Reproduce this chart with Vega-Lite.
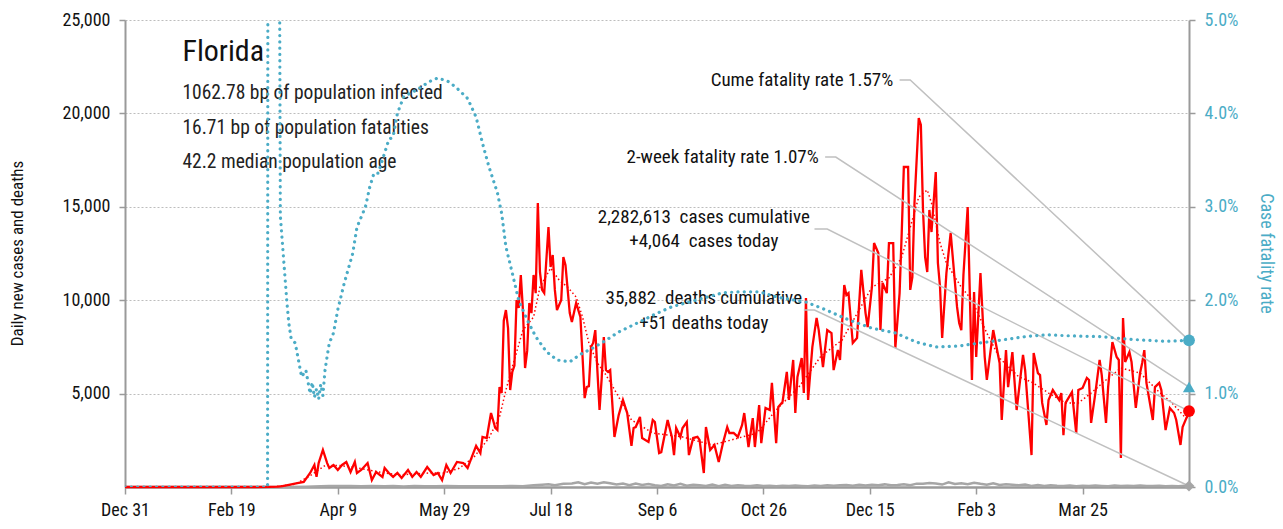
{
"$schema": "https://vega.github.io/schema/vega-lite/v6.json",
"width": 1064,
"height": 467,
"autosize": {"type": "none"},
"padding": {"left": 125, "top": 20, "right": 94, "bottom": 42},
"background": "white",
"config": {
  "font": "Liberation Sans Narrow, Roboto Condensed, DejaVu Sans Condensed, sans-serif",
  "view": {"stroke": null},
  "axis": {"labelFont": "Liberation Sans Narrow, Roboto Condensed, DejaVu Sans Condensed, sans-serif", "titleFont": "Liberation Sans Narrow, Roboto Condensed, DejaVu Sans Condensed, sans-serif"}
},
"datasets": {
  "cases": [
    {"t":"2019-12-31","v":0},{"t":"2020-03-01","v":0},{"t":"2020-03-08","v":5},{"t":"2020-03-12","v":20},{"t":"2020-03-14","v":50},{"t":"2020-03-17","v":120},{"t":"2020-03-21","v":210},{"t":"2020-03-24","v":270},{"t":"2020-03-27","v":750},{"t":"2020-03-29","v":1180},{"t":"2020-03-30","v":540},{"t":"2020-03-31","v":1280},
    {"t":"2020-04-02","v":1980},{"t":"2020-04-04","v":1280},{"t":"2020-04-05","v":1020},{"t":"2020-04-07","v":1180},{"t":"2020-04-09","v":910},{"t":"2020-04-11","v":1180},{"t":"2020-04-13","v":1340},{"t":"2020-04-15","v":800},{"t":"2020-04-17","v":1340},{"t":"2020-04-18","v":750},{"t":"2020-04-20","v":910},{"t":"2020-04-23","v":1280},{"t":"2020-04-25","v":370},{"t":"2020-04-27","v":800},{"t":"2020-04-30","v":540},
    {"t":"2020-05-01","v":1020},{"t":"2020-05-03","v":750},{"t":"2020-05-05","v":540},{"t":"2020-05-07","v":750},{"t":"2020-05-09","v":480},{"t":"2020-05-12","v":910},{"t":"2020-05-14","v":540},{"t":"2020-05-16","v":800},{"t":"2020-05-18","v":540},{"t":"2020-05-21","v":1070},{"t":"2020-05-24","v":640},{"t":"2020-05-26","v":750},{"t":"2020-05-28","v":370},{"t":"2020-05-30","v":1180},
    {"t":"2020-06-01","v":750},{"t":"2020-06-04","v":1340},{"t":"2020-06-07","v":1280},{"t":"2020-06-09","v":1020},{"t":"2020-06-11","v":1610},{"t":"2020-06-13","v":2200},{"t":"2020-06-15","v":1820},{"t":"2020-06-16","v":2680},{"t":"2020-06-18","v":2620},{"t":"2020-06-20","v":3960},{"t":"2020-06-22","v":3160},{"t":"2020-06-23","v":3050},{"t":"2020-06-24","v":5350},{"t":"2020-06-25","v":5030},{"t":"2020-06-26","v":8900},{"t":"2020-06-27","v":9470},{"t":"2020-06-28","v":8500},{"t":"2020-06-29","v":5190},{"t":"2020-06-30","v":6160},
    {"t":"2020-07-01","v":6500},{"t":"2020-07-02","v":10010},{"t":"2020-07-03","v":9580},{"t":"2020-07-04","v":11350},{"t":"2020-07-05","v":9470},{"t":"2020-07-06","v":6370},{"t":"2020-07-07","v":7300},{"t":"2020-07-08","v":9850},{"t":"2020-07-09","v":9310},{"t":"2020-07-10","v":11350},{"t":"2020-07-11","v":10380},{"t":"2020-07-12","v":15200},{"t":"2020-07-13","v":11500},{"t":"2020-07-14","v":10550},{"t":"2020-07-15","v":10380},{"t":"2020-07-17","v":13920},{"t":"2020-07-18","v":11780},{"t":"2020-07-19","v":12420},{"t":"2020-07-20","v":10550},{"t":"2020-07-21","v":9470},{"t":"2020-07-23","v":10010},{"t":"2020-07-24","v":12310},{"t":"2020-07-25","v":11880},{"t":"2020-07-27","v":9310},{"t":"2020-07-28","v":8830},{"t":"2020-07-30","v":9850},
    {"t":"2020-08-01","v":9100},{"t":"2020-08-02","v":7000},{"t":"2020-08-03","v":4760},{"t":"2020-08-04","v":5350},{"t":"2020-08-05","v":5400},{"t":"2020-08-06","v":7490},{"t":"2020-08-07","v":7710},{"t":"2020-08-08","v":8400},{"t":"2020-08-09","v":6200},{"t":"2020-08-10","v":4120},{"t":"2020-08-11","v":5800},{"t":"2020-08-12","v":8030},{"t":"2020-08-13","v":6260},{"t":"2020-08-14","v":6160},{"t":"2020-08-15","v":6260},{"t":"2020-08-17","v":2680},{"t":"2020-08-19","v":3850},{"t":"2020-08-21","v":4660},{"t":"2020-08-23","v":3960},{"t":"2020-08-25","v":2200},{"t":"2020-08-26","v":3160},{"t":"2020-08-27","v":3210},{"t":"2020-08-29","v":3750},{"t":"2020-08-30","v":2620},
    {"t":"2020-09-02","v":2410},{"t":"2020-09-04","v":3590},{"t":"2020-09-05","v":3480},{"t":"2020-09-07","v":1820},{"t":"2020-09-08","v":1870},{"t":"2020-09-11","v":3590},{"t":"2020-09-13","v":2680},{"t":"2020-09-14","v":1710},{"t":"2020-09-15","v":3160},{"t":"2020-09-17","v":2680},{"t":"2020-09-18","v":3160},{"t":"2020-09-20","v":3480},{"t":"2020-09-21","v":1710},{"t":"2020-09-23","v":2620},{"t":"2020-09-25","v":2680},{"t":"2020-09-26","v":2520},{"t":"2020-09-28","v":750},{"t":"2020-09-29","v":3210},
    {"t":"2020-10-01","v":1980},{"t":"2020-10-03","v":2250},{"t":"2020-10-05","v":1340},{"t":"2020-10-07","v":2350},{"t":"2020-10-09","v":3210},{"t":"2020-10-10","v":2890},{"t":"2020-10-12","v":2890},{"t":"2020-10-14","v":2680},{"t":"2020-10-16","v":3320},{"t":"2020-10-17","v":3960},{"t":"2020-10-19","v":2140},{"t":"2020-10-21","v":3690},{"t":"2020-10-22","v":2140},{"t":"2020-10-24","v":4390},{"t":"2020-10-25","v":2350},{"t":"2020-10-27","v":4230},{"t":"2020-10-29","v":4120},{"t":"2020-10-30","v":5570},
    {"t":"2020-11-01","v":2350},{"t":"2020-11-02","v":4280},{"t":"2020-11-04","v":4550},{"t":"2020-11-06","v":6160},{"t":"2020-11-07","v":4660},{"t":"2020-11-09","v":6800},{"t":"2020-11-10","v":3960},{"t":"2020-11-11","v":5890},{"t":"2020-11-13","v":6900},{"t":"2020-11-14","v":5030},{"t":"2020-11-15","v":10120},{"t":"2020-11-16","v":4660},{"t":"2020-11-18","v":7490},{"t":"2020-11-20","v":9050},{"t":"2020-11-21","v":8400},{"t":"2020-11-23","v":6420},{"t":"2020-11-25","v":8400},{"t":"2020-11-27","v":8240},{"t":"2020-11-28","v":6260},{"t":"2020-11-30","v":7330},
    {"t":"2020-12-01","v":6800},{"t":"2020-12-03","v":10810},{"t":"2020-12-04","v":10280},{"t":"2020-12-05","v":10380},{"t":"2020-12-07","v":7710},{"t":"2020-12-09","v":7980},{"t":"2020-12-11","v":11620},{"t":"2020-12-13","v":9310},{"t":"2020-12-14","v":8560},{"t":"2020-12-16","v":10710},{"t":"2020-12-17","v":13060},{"t":"2020-12-19","v":12530},{"t":"2020-12-20","v":8400},{"t":"2020-12-21","v":10920},{"t":"2020-12-23","v":10380},{"t":"2020-12-24","v":13060},{"t":"2020-12-25","v":13060},{"t":"2020-12-26","v":13060},{"t":"2020-12-27","v":7440},{"t":"2020-12-29","v":10380},{"t":"2020-12-30","v":13600},{"t":"2020-12-31","v":17130},
    {"t":"2021-01-01","v":17130},{"t":"2021-01-02","v":17130},{"t":"2021-01-03","v":10550},{"t":"2021-01-04","v":11240},{"t":"2021-01-05","v":15200},{"t":"2021-01-07","v":19750},{"t":"2021-01-08","v":19380},{"t":"2021-01-09","v":14830},{"t":"2021-01-10","v":12310},{"t":"2021-01-11","v":11510},{"t":"2021-01-12","v":14830},{"t":"2021-01-13","v":13650},{"t":"2021-01-15","v":16860},{"t":"2021-01-16","v":11990},{"t":"2021-01-17","v":10710},{"t":"2021-01-18","v":7980},{"t":"2021-01-20","v":11450},{"t":"2021-01-22","v":13600},{"t":"2021-01-25","v":9640},{"t":"2021-01-26","v":8780},{"t":"2021-01-27","v":8400},{"t":"2021-01-28","v":11350},{"t":"2021-01-30","v":14990},
    {"t":"2021-02-01","v":5730},{"t":"2021-02-02","v":10440},{"t":"2021-02-03","v":6960},{"t":"2021-02-05","v":11450},{"t":"2021-02-07","v":6960},{"t":"2021-02-08","v":5730},{"t":"2021-02-11","v":8400},{"t":"2021-02-14","v":6640},{"t":"2021-02-15","v":3590},{"t":"2021-02-17","v":7330},{"t":"2021-02-18","v":5350},{"t":"2021-02-20","v":7220},{"t":"2021-02-22","v":4120},{"t":"2021-02-25","v":7070},{"t":"2021-02-26","v":6260},
    {"t":"2021-03-01","v":1710},{"t":"2021-03-02","v":7170},{"t":"2021-03-04","v":6100},{"t":"2021-03-05","v":5990},{"t":"2021-03-06","v":4500},{"t":"2021-03-08","v":3320},{"t":"2021-03-09","v":4660},{"t":"2021-03-11","v":5190},{"t":"2021-03-14","v":4660},{"t":"2021-03-15","v":5030},{"t":"2021-03-16","v":2780},{"t":"2021-03-17","v":4500},{"t":"2021-03-20","v":5080},{"t":"2021-03-22","v":2890},{"t":"2021-03-23","v":5190},{"t":"2021-03-25","v":5300},{"t":"2021-03-27","v":5840},{"t":"2021-03-28","v":5730},{"t":"2021-03-29","v":3430},{"t":"2021-03-31","v":5030},
    {"t":"2021-04-02","v":6800},{"t":"2021-04-03","v":5990},{"t":"2021-04-05","v":3430},{"t":"2021-04-06","v":5350},{"t":"2021-04-08","v":7760},{"t":"2021-04-10","v":6960},{"t":"2021-04-11","v":6800},{"t":"2021-04-12","v":1550},{"t":"2021-04-13","v":9050},{"t":"2021-04-14","v":6690},{"t":"2021-04-16","v":7220},{"t":"2021-04-17","v":6690},{"t":"2021-04-19","v":4230},{"t":"2021-04-21","v":6100},{"t":"2021-04-22","v":6640},{"t":"2021-04-23","v":7330},{"t":"2021-04-24","v":5570},{"t":"2021-04-27","v":3590},{"t":"2021-04-28","v":5350},{"t":"2021-04-30","v":5570},
    {"t":"2021-05-01","v":5190},{"t":"2021-05-03","v":3050},{"t":"2021-05-05","v":4230},{"t":"2021-05-07","v":3960},{"t":"2021-05-08","v":3590},{"t":"2021-05-10","v":2250},{"t":"2021-05-11","v":3210},{"t":"2021-05-13","v":3750},{"t":"2021-05-14","v":4064}
  ],
  "avg": [
    {"t":"2019-12-31","v":0},{"t":"2020-03-01","v":0},{"t":"2020-03-10","v":15},{"t":"2020-03-20","v":150},{"t":"2020-03-27","v":600},{"t":"2020-04-03","v":1150},{"t":"2020-04-10","v":1150},{"t":"2020-04-17","v":1050},{"t":"2020-04-24","v":900},{"t":"2020-05-01","v":750},{"t":"2020-05-08","v":650},{"t":"2020-05-15","v":700},{"t":"2020-05-22","v":750},{"t":"2020-05-29","v":750},{"t":"2020-06-05","v":1000},{"t":"2020-06-12","v":1600},{"t":"2020-06-19","v":2620},{"t":"2020-06-24","v":3750},{"t":"2020-06-27","v":5190},{"t":"2020-06-30","v":6420},{"t":"2020-07-05","v":8400},{"t":"2020-07-10","v":9100},{"t":"2020-07-13","v":10700},{"t":"2020-07-18","v":11720},{"t":"2020-07-22","v":11080},{"t":"2020-07-26","v":10700},{"t":"2020-07-30","v":10170},{"t":"2020-08-02","v":9100},{"t":"2020-08-05","v":7710},{"t":"2020-08-09","v":6640},{"t":"2020-08-13","v":6000},{"t":"2020-08-19","v":4820},{"t":"2020-08-25","v":3590},{"t":"2020-09-04","v":2890},{"t":"2020-09-18","v":2680},{"t":"2020-10-02","v":2250},{"t":"2020-10-11","v":2520},{"t":"2020-10-23","v":2890},{"t":"2020-11-01","v":4120},{"t":"2020-11-12","v":5400},{"t":"2020-11-22","v":7000},{"t":"2020-12-02","v":7870},{"t":"2020-12-16","v":10700},{"t":"2020-12-24","v":11190},{"t":"2020-12-30","v":12300},{"t":"2021-01-03","v":13900},{"t":"2021-01-07","v":15520},{"t":"2021-01-11","v":15900},{"t":"2021-01-13","v":15200},{"t":"2021-01-17","v":13060},{"t":"2021-01-20","v":11990},{"t":"2021-01-24","v":11240},{"t":"2021-01-27","v":10700},{"t":"2021-02-01","v":10010},{"t":"2021-02-08","v":8240},{"t":"2021-02-14","v":6900},{"t":"2021-02-23","v":5900},{"t":"2021-03-01","v":5620},{"t":"2021-03-09","v":5030},{"t":"2021-03-17","v":4500},{"t":"2021-03-23","v":4500},{"t":"2021-03-29","v":5030},{"t":"2021-04-05","v":5730},{"t":"2021-04-12","v":6370},{"t":"2021-04-21","v":6100},{"t":"2021-04-29","v":5190},{"t":"2021-05-06","v":4500},{"t":"2021-05-12","v":3750},{"t":"2021-05-14","v":3700}
  ],
  "deaths": [
    {"t":"2019-12-31","v":0},{"t":"2020-03-05","v":0},{"t":"2020-03-15","v":5},{"t":"2020-03-25","v":20},{"t":"2020-04-01","v":40},{"t":"2020-04-05","v":60},{"t":"2020-04-10","v":50},{"t":"2020-04-15","v":60},{"t":"2020-04-20","v":40},{"t":"2020-04-25","v":50},{"t":"2020-05-01","v":45},{"t":"2020-05-05","v":60},{"t":"2020-05-10","v":30},{"t":"2020-05-15","v":50},{"t":"2020-05-20","v":40},{"t":"2020-05-25","v":35},{"t":"2020-05-30","v":50},{"t":"2020-06-05","v":40},{"t":"2020-06-10","v":45},{"t":"2020-06-15","v":35},{"t":"2020-06-20","v":40},{"t":"2020-06-25","v":45},{"t":"2020-06-30","v":50},{"t":"2020-07-05","v":40},{"t":"2020-07-10","v":90},{"t":"2020-07-14","v":120},{"t":"2020-07-17","v":150},{"t":"2020-07-20","v":100},{"t":"2020-07-24","v":170},{"t":"2020-07-28","v":190},{"t":"2020-07-31","v":250},{"t":"2020-08-03","v":150},{"t":"2020-08-06","v":240},{"t":"2020-08-09","v":180},{"t":"2020-08-12","v":250},{"t":"2020-08-15","v":200},{"t":"2020-08-18","v":130},{"t":"2020-08-21","v":180},{"t":"2020-08-24","v":90},{"t":"2020-08-27","v":180},{"t":"2020-08-30","v":110},{"t":"2020-09-02","v":160},{"t":"2020-09-05","v":90},{"t":"2020-09-08","v":60},{"t":"2020-09-11","v":150},{"t":"2020-09-14","v":80},{"t":"2020-09-17","v":170},{"t":"2020-09-20","v":70},{"t":"2020-09-23","v":120},{"t":"2020-09-26","v":100},{"t":"2020-09-29","v":60},{"t":"2020-10-02","v":130},{"t":"2020-10-05","v":40},{"t":"2020-10-08","v":120},{"t":"2020-10-11","v":60},{"t":"2020-10-14","v":100},{"t":"2020-10-17","v":70},{"t":"2020-10-20","v":60},{"t":"2020-10-23","v":90},{"t":"2020-10-26","v":50},{"t":"2020-10-29","v":70},{"t":"2020-11-01","v":40},{"t":"2020-11-04","v":70},{"t":"2020-11-07","v":50},{"t":"2020-11-10","v":80},{"t":"2020-11-13","v":60},{"t":"2020-11-16","v":40},{"t":"2020-11-19","v":80},{"t":"2020-11-22","v":60},{"t":"2020-11-25","v":100},{"t":"2020-11-28","v":70},{"t":"2020-12-01","v":100},{"t":"2020-12-04","v":110},{"t":"2020-12-07","v":70},{"t":"2020-12-10","v":120},{"t":"2020-12-13","v":80},{"t":"2020-12-16","v":120},{"t":"2020-12-19","v":100},{"t":"2020-12-22","v":140},{"t":"2020-12-25","v":90},{"t":"2020-12-28","v":110},{"t":"2020-12-31","v":150},{"t":"2021-01-03","v":90},{"t":"2021-01-06","v":180},{"t":"2021-01-09","v":170},{"t":"2021-01-12","v":220},{"t":"2021-01-15","v":190},{"t":"2021-01-18","v":130},{"t":"2021-01-21","v":250},{"t":"2021-01-24","v":160},{"t":"2021-01-27","v":200},{"t":"2021-01-30","v":150},{"t":"2021-02-02","v":230},{"t":"2021-02-05","v":170},{"t":"2021-02-08","v":120},{"t":"2021-02-11","v":200},{"t":"2021-02-14","v":110},{"t":"2021-02-17","v":150},{"t":"2021-02-20","v":120},{"t":"2021-02-23","v":90},{"t":"2021-02-26","v":130},{"t":"2021-03-01","v":60},{"t":"2021-03-04","v":110},{"t":"2021-03-07","v":50},{"t":"2021-03-10","v":90},{"t":"2021-03-13","v":70},{"t":"2021-03-16","v":60},{"t":"2021-03-19","v":80},{"t":"2021-03-22","v":40},{"t":"2021-03-25","v":70},{"t":"2021-03-28","v":50},{"t":"2021-03-31","v":80},{"t":"2021-04-03","v":60},{"t":"2021-04-06","v":40},{"t":"2021-04-09","v":80},{"t":"2021-04-12","v":50},{"t":"2021-04-15","v":70},{"t":"2021-04-18","v":60},{"t":"2021-04-21","v":80},{"t":"2021-04-24","v":50},{"t":"2021-04-27","v":60},{"t":"2021-04-30","v":70},{"t":"2021-05-03","v":40},{"t":"2021-05-06","v":60},{"t":"2021-05-09","v":40},{"t":"2021-05-12","v":70},{"t":"2021-05-14","v":51}
  ],
  "cfr": [
    {"t":"2019-12-31","r":0},{"t":"2020-03-07","r":0},{"t":"2020-03-08","r":0.4},{"t":"2020-03-10","r":0.2},{"t":"2020-03-12","r":0.1},{"t":"2020-03-13","r":0.029},{"t":"2020-03-14","r":0.026},{"t":"2020-03-15","r":0.023},{"t":"2020-03-16","r":0.020},{"t":"2020-03-17","r":0.0175},{"t":"2020-03-18","r":0.016},{"t":"2020-03-20","r":0.0154},{"t":"2020-03-23","r":0.0118},{"t":"2020-03-25","r":0.0125},{"t":"2020-03-27","r":0.0100},{"t":"2020-03-28","r":0.0112},{"t":"2020-03-29","r":0.0096},{"t":"2020-03-30","r":0.0105},{"t":"2020-03-31","r":0.0094},{"t":"2020-04-01","r":0.0110},{"t":"2020-04-02","r":0.0098},{"t":"2020-04-03","r":0.0125},{"t":"2020-04-04","r":0.0140},{"t":"2020-04-05","r":0.0154},{"t":"2020-04-07","r":0.0165},{"t":"2020-04-09","r":0.019},{"t":"2020-04-12","r":0.0218},{"t":"2020-04-16","r":0.025},{"t":"2020-04-18","r":0.0278},{"t":"2020-04-22","r":0.030},{"t":"2020-04-24","r":0.0321},{"t":"2020-04-26","r":0.0336},{"t":"2020-04-28","r":0.0336},{"t":"2020-05-03","r":0.0372},{"t":"2020-05-05","r":0.0375},{"t":"2020-05-07","r":0.040},{"t":"2020-05-10","r":0.0418},{"t":"2020-05-16","r":0.0425},{"t":"2020-05-22","r":0.0434},{"t":"2020-05-26","r":0.0438},{"t":"2020-05-31","r":0.0434},{"t":"2020-06-04","r":0.0427},{"t":"2020-06-09","r":0.0416},{"t":"2020-06-13","r":0.0396},{"t":"2020-06-16","r":0.0368},{"t":"2020-06-19","r":0.0343},{"t":"2020-06-23","r":0.0315},{"t":"2020-06-25","r":0.0293},{"t":"2020-06-27","r":0.0257},{"t":"2020-06-30","r":0.0229},{"t":"2020-07-03","r":0.020},{"t":"2020-07-07","r":0.0179},{"t":"2020-07-11","r":0.0161},{"t":"2020-07-16","r":0.0145},{"t":"2020-07-21","r":0.0136},{"t":"2020-07-27","r":0.0134},{"t":"2020-08-01","r":0.0142},{"t":"2020-08-07","r":0.0149},{"t":"2020-08-13","r":0.0157},{"t":"2020-08-19","r":0.0166},{"t":"2020-08-29","r":0.0177},{"t":"2020-09-06","r":0.0186},{"t":"2020-09-13","r":0.0193},{"t":"2020-09-21","r":0.0198},{"t":"2020-09-29","r":0.0203},{"t":"2020-10-07","r":0.0208},{"t":"2020-10-15","r":0.0209},{"t":"2020-10-24","r":0.0209},{"t":"2020-11-02","r":0.0203},{"t":"2020-11-15","r":0.0198},{"t":"2020-11-24","r":0.0190},{"t":"2020-12-05","r":0.0179},{"t":"2020-12-16","r":0.0170},{"t":"2020-12-27","r":0.0165},{"t":"2021-01-06","r":0.0155},{"t":"2021-01-15","r":0.0150},{"t":"2021-01-26","r":0.0151},{"t":"2021-02-04","r":0.0154},{"t":"2021-02-17","r":0.0158},{"t":"2021-02-26","r":0.0161},{"t":"2021-03-08","r":0.0163},{"t":"2021-03-17","r":0.0162},{"t":"2021-04-02","r":0.0161},{"t":"2021-04-17","r":0.0158},{"t":"2021-05-03","r":0.0156},{"t":"2021-05-14","r":0.0157}
  ],
  "leaders": [
    {"g":"cume","t":"2020-12-29","v":21790},{"g":"cume","t":"2021-01-03","v":21790},{"g":"cume","t":"2021-05-14","v":7850},
    {"g":"week","t":"2020-11-24","v":17665},{"g":"week","t":"2020-11-29","v":17665},{"g":"week","t":"2021-05-14","v":5350},
    {"g":"cases","t":"2020-11-19","v":13810},{"g":"cases","t":"2020-11-25","v":13810},{"g":"cases","t":"2021-05-14","v":4064},
    {"g":"deaths","t":"2020-11-14","v":9475},{"g":"deaths","t":"2020-11-19","v":9475},{"g":"deaths","t":"2021-05-14","v":51}
  ]
},
"encoding": {
  "x": {
    "field": "t", "type": "temporal",
    "scale": {"type": "utc", "nice": false, "domain": [{"year":2019,"month":12,"date":31,"utc":true},{"year":2021,"month":5,"date":14,"utc":true}]},
    "axis": {
      "title": null,
      "values": [{"year":2019,"month":12,"date":31,"utc":true},{"year":2020,"month":2,"date":19,"utc":true},{"year":2020,"month":4,"date":9,"utc":true},{"year":2020,"month":5,"date":29,"utc":true},{"year":2020,"month":7,"date":18,"utc":true},{"year":2020,"month":9,"date":6,"utc":true},{"year":2020,"month":10,"date":26,"utc":true},{"year":2020,"month":12,"date":15,"utc":true},{"year":2021,"month":2,"date":3,"utc":true},{"year":2021,"month":3,"date":25,"utc":true}],
      "labelExpr": "utcFormat(datum.value, '%b %-d')",
      "grid": false, "domainColor": "#9a9a9a", "domainWidth": 2.5, "tickColor": "#9a9a9a", "tickWidth": 1.5, "tickSize": 7,
      "labelFontSize": 18, "labelColor": "#111", "labelPadding": 7, "labelFlush": false, "labelOverlap": false
    }
  }
},
"layer": [
  {
    "encoding": {
      "y": {
        "field": "v", "type": "quantitative",
        "scale": {"domain": [0, 25000], "nice": false},
        "axis": {
          "orient": "left", "title": "Daily new cases and deaths", "titleFontSize": 17, "titleFontWeight": "normal", "titleColor": "#111",
          "titleX": -108, "titleY": 233, "titleAngle": -90, "titleAlign": "center", "titleBaseline": "middle",
          "values": [5000, 10000, 15000, 20000, 25000], "labelExpr": "format(datum.value, ',')",
          "labelFontSize": 18, "labelColor": "#111", "labelPadding": 9,
          "tickColor": "#9a9a9a", "tickSize": 6, "tickWidth": 1.5,
          "domainColor": "#9a9a9a", "domainWidth": 2,
          "grid": true, "gridColor": "#bdbdbd", "gridDash": [2, 2], "gridWidth": 1
        }
      }
    },
    "layer": [
      {"data": {"name": "deaths"}, "mark": {"type": "line", "color": "#a6a6a6", "strokeWidth": 2.5}},
      {"data": {"name": "avg"}, "mark": {"type": "line", "color": "#ff0000", "strokeWidth": 1.5, "strokeDash": [1.5, 2.5]}},
      {"data": {"name": "cases"}, "mark": {"type": "line", "color": "#ff0000", "strokeWidth": 2.3}},
      {"data": {"name": "leaders"}, "mark": {"type": "line", "color": "#c0c0c0", "strokeWidth": 1.5}, "encoding": {"detail": {"field": "g", "type": "nominal"}}},
      {"data": {"values": [{"t":"2020-01-27","v":23285,"txt":"Florida"}]}, "mark": {"type": "text", "align": "left", "baseline": "middle", "fontSize": 30, "color": "#111"}, "encoding": {"text": {"field": "txt"}}},
      {"data": {"values": [{"t":"2020-01-27","v":21091,"txt":"1062.78 bp of population infected"},{"t":"2020-01-27","v":19217,"txt":"16.71 bp of population fatalities"},{"t":"2020-01-27","v":17397,"txt":"42.2 median population age"}]}, "mark": {"type": "text", "align": "left", "baseline": "middle", "fontSize": 19.5, "color": "#222"}, "encoding": {"text": {"field": "txt"}}},
      {"data": {"values": [{"t":"2020-12-26","v":21790,"txt":"Cume fatality rate 1.57%"},{"t":"2020-11-21","v":17665,"txt":"2-week fatality rate 1.07%"}]}, "mark": {"type": "text", "align": "right", "baseline": "middle", "fontSize": 19, "color": "#111"}, "encoding": {"text": {"field": "txt"}}},
      {"data": {"values": [{"t":"2020-09-28","v":14453,"txt":"2,282,613 \u00a0cases cumulative"},{"t":"2020-09-28","v":13168,"txt":"+4,064 \u00a0cases today"},{"t":"2020-09-28","v":10117,"txt":"35,882 \u00a0deaths cumulative"},{"t":"2020-09-28","v":8779,"txt":"+51 deaths today"}]}, "mark": {"type": "text", "align": "center", "baseline": "middle", "fontSize": 19, "color": "#111"}, "encoding": {"text": {"field": "txt"}}},
      {"data": {"values": [{"t":"2021-05-14","v":4064}]}, "mark": {"type": "point", "shape": "circle", "filled": true, "color": "#ff0000", "size": 140, "opacity": 1}},
      {"data": {"values": [{"t":"2021-05-14","v":51}]}, "mark": {"type": "point", "shape": "diamond", "filled": true, "color": "#a6a6a6", "size": 120, "opacity": 1}}
    ]
  },
  {
    "encoding": {
      "y": {
        "field": "r", "type": "quantitative",
        "scale": {"domain": [0, 0.05], "nice": false},
        "axis": {
          "orient": "right", "title": "Case fatality rate", "titleFontSize": 18, "titleFontWeight": "normal", "titleColor": "#4bacc6",
          "titleX": 76, "titleY": 233, "titleAngle": 90, "titleAlign": "center", "titleBaseline": "middle",
          "values": [0, 0.01, 0.02, 0.03, 0.04, 0.05], "labelExpr": "format(datum.value, '.1%')",
          "labelFontSize": 18, "labelColor": "#4bacc6", "labelPadding": 9,
          "tickColor": "#9a9a9a", "tickSize": 6, "tickWidth": 1.5,
          "domainColor": "#9a9a9a", "domainWidth": 2, "grid": false
        }
      }
    },
    "layer": [
      {"data": {"name": "cfr"}, "mark": {"type": "line", "color": "#4bacc6", "strokeWidth": 3.2, "strokeDash": [0.1, 6.2], "strokeCap": "round", "clip": true}},
      {"data": {"values": [{"t":"2021-05-14","r":0.0157}]}, "mark": {"type": "point", "shape": "circle", "filled": true, "color": "#4bacc6", "size": 140, "opacity": 1}},
      {"data": {"values": [{"t":"2021-05-14","r":0.0107}]}, "mark": {"type": "point", "shape": "triangle-up", "filled": true, "color": "#4bacc6", "size": 150, "opacity": 1}}
    ]
  }
],
"resolve": {"scale": {"y": "independent"}}
}
